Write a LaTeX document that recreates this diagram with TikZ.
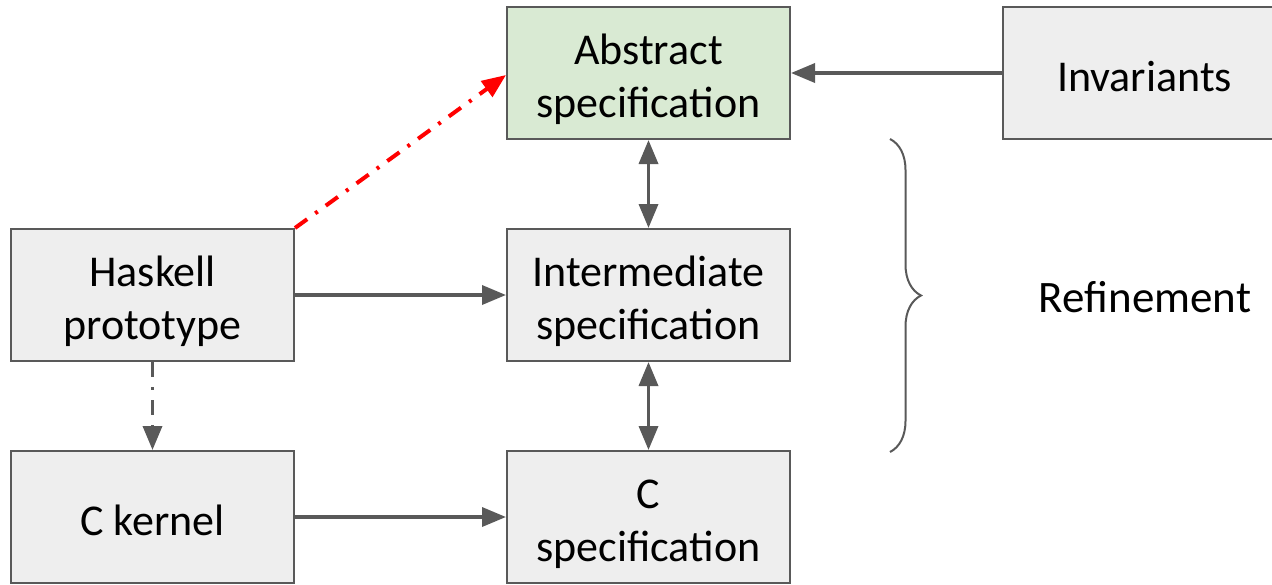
\documentclass[tikz,border=0pt]{standalone}
\usepackage{fontspec}
\setmainfont{Carlito}
\usepackage{xcolor}
\usepackage{tikz}
\usetikzlibrary{arrows.meta,positioning,decorations.pathreplacing}

\definecolor{edgegray}{HTML}{595959}
\definecolor{boxgray}{HTML}{EEEEEE}
\definecolor{absgreen}{HTML}{D9EAD3}

\begin{document}
\begin{tikzpicture}[x=1pt, y=-1pt, node distance=88pt and 211pt,
    >={Triangle[length=24pt, width=19pt]},
    box/.style={draw=edgegray, line width=2pt, fill=boxgray, rectangle, minimum width=283pt, minimum height=132pt, align=center, font=\fontsize{44}{53}\selectfont, execute at begin node={\rule{0pt}{37pt}}},
    flow/.style={->, draw=edgegray, line width=3.5pt},
    dashdot/.style={dash pattern=on 15pt off 10pt on 3pt off 10pt}]
    \useasboundingbox (0,0) rectangle (1272,584);

    \node[box, fill=absgreen] (A) at (648.5,73) {\rule{0pt}{44pt}Abstract\\specification};
    \node[box, right=of A] (I) {Invariants};
    \node[box, below=of A] (M) {\rule{0pt}{44pt}Intermediate\\specification};
    \node[box, left=of M] (H) {\rule{0pt}{44pt}Haskell\\prototype};
    \node[box, below=of M] (C) {\rule{0pt}{44pt}C\\specification};
    \node[box, below=of H] (K) {C kernel};

    \node[font=\fontsize{45}{54}\selectfont] (R) at (1145,297) {Refinement};

    \draw[flow] (I) -- (A);
    \draw[flow, <->] (A) -- (M); \draw[flow, <->] (M) -- (C);
    \draw[flow] (H) -- (M);
    \draw[flow] (K) -- (C);
    \draw[flow, dashdot] (H) -- (K);
    \draw[->, red, line width=4pt, dashdot] (H.north east) -- ([yshift=-2pt]A.west);

    % brace over the refinement steps
    \coordinate (bTop) at (890,139);
    \coordinate (bBot) at (890,452);
    \draw[edgegray, line width=2pt, decorate, decoration={brace, amplitude=31pt}] (bTop) -- (bBot);
\end{tikzpicture}
\end{document}
